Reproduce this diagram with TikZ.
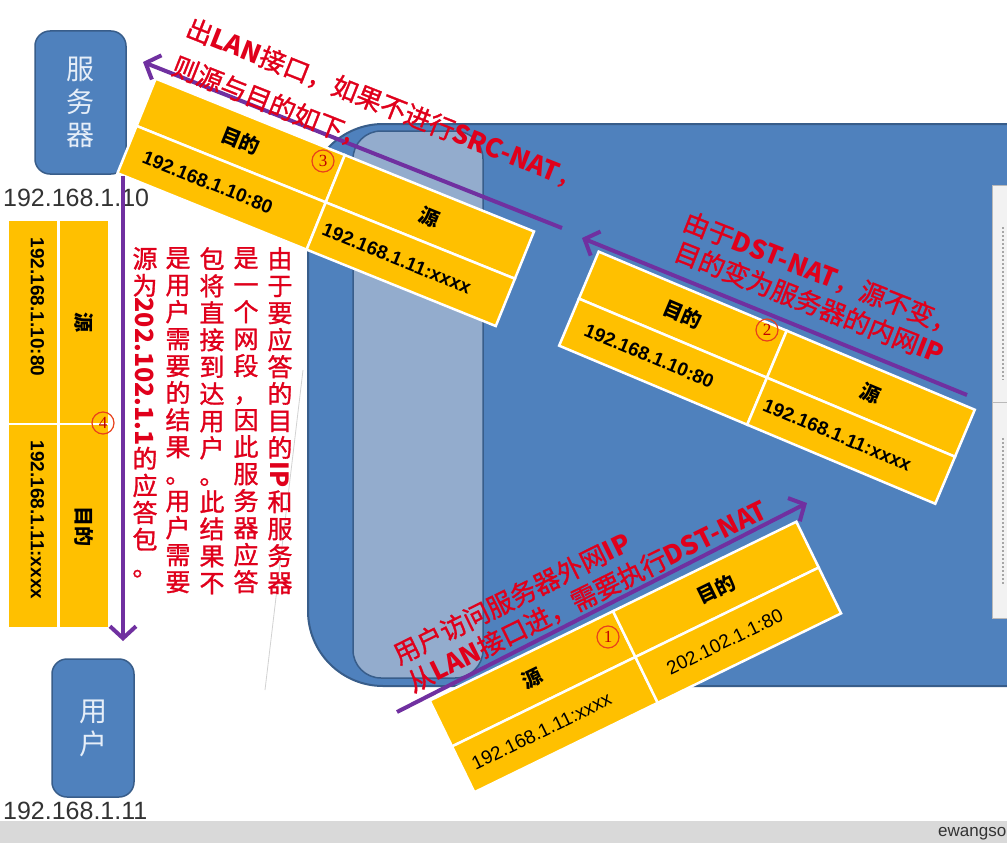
\documentclass[tikz,border=0pt]{standalone}
\usepackage{fontspec}
\setmainfont{Liberation Sans}
\newfontfamily\cjk{Noto Sans CJK SC}
\newfontfamily\cjkm[FakeBold=1.2]{Noto Sans CJK SC}
\newfontfamily\arialf{Liberation Sans}
\newfontfamily\seriff{Liberation Serif}
\usetikzlibrary{arrows.meta}
\newcommand\setfs[2]{\fontsize{#1}{#2}\selectfont}
\newcommand\lat[1]{{\cjk\bfseries #1}}
\definecolor{bigblue}{HTML}{4F81BD}
\definecolor{bordblue}{HTML}{385D8A}
\definecolor{lanblue}{HTML}{93ACCD}
\definecolor{ylw}{HTML}{FFC000}
\definecolor{purp}{HTML}{7030A0}
\definecolor{redtxt}{HTML}{E0001B}
\definecolor{circred}{HTML}{E8411C}
\definecolor{digred}{HTML}{C00000}
\definecolor{iptxt}{HTML}{333333}
\definecolor{footer}{HTML}{D9D9D9}
\definecolor{devtxt}{HTML}{E6EEF8}
\definecolor{panel}{HTML}{F2F2F2}
\tikzset{
  cell/.style={draw=white, line width=2.5pt, fill=ylw, inner sep=0pt, anchor=north west,
    minimum width=204pt, minimum height=51pt},
  hdrcell/.style={font=\cjk\bfseries\setfs{20}{20}, text=black},
  valbold/.style={font=\arialf\bfseries\setfs{19}{19}, text=black},
  valreg/.style={font=\arialf\setfs{19}{19}, text=black},
  devbox/.style={fill=bigblue, draw=bordblue, line width=1.5pt, rounded corners=15pt,
    align=center, text=devtxt, font=\cjk\setfs{28}{33}, inner sep=0pt},
  iplabel/.style={font=\arialf\setfs{25}{25}, text=iptxt, inner sep=0pt, anchor=west},
  arr/.style={draw=purp, line width=4pt, -{Straight Barb[length=12pt,width=26pt]}},
  lbl/.style={font=\cjkm\setfs{26}{26}, text=redtxt, inner sep=0pt, anchor=base west},
  vtext/.style={font=\cjkm\setfs{25}{27}, text=redtxt, inner sep=0pt, anchor=north, align=center},
  circnum/.style={circle, draw=circred, line width=1.2pt, inner sep=0pt, minimum size=22pt,
    text=digred, font=\seriff\setfs{17}{17}},
}
\newcommand\nattable[9]{%
\begin{scope}[shift={(#2,#3)}, rotate=#4, transform shape]
  \node[cell, hdrcell] (#1hl) at (0,0) {#5};
  \node[cell, #9] (#1vl) at (0,51) {\hspace*{-30pt}#6};
  \node[cell, hdrcell] (#1hr) at (204,0) {#7};
  \node[cell, #9] (#1vr) at (204,51) {\hspace*{-30pt}#8};
\end{scope}}
\begin{document}
\begin{tikzpicture}[x=1pt, y=-1pt]
\useasboundingbox (0,0) rectangle (1007,843);
\clip (0,0) rectangle (1007,843);
\fill[white] (0,0) rectangle (1007,843);
% big device
\path[fill=bigblue, draw=bordblue, line width=2pt, rounded corners=75pt]
  (1030,124) -- (308,124) -- (308,686) -- (1030,686);
% LAN interface
\draw[fill=lanblue, draw=bordblue, line width=1.5pt, rounded corners=28pt]
  (353,131) rectangle (483,678);
% right panel
\draw[fill=panel, draw=gray!55, line width=1pt] (992,185) rectangle (1015,618);
\draw[gray!55, line width=1pt] (992,402) -- (1015,402);
\draw[gray!70, line width=1.5pt, dash pattern=on 2pt off 2pt] (1003,227) -- (1003,380);
\draw[gray!70, line width=1.5pt, dash pattern=on 2pt off 2pt] (1003,438) -- (1003,585);
% faint line
\draw[gray!35, line width=0.8pt] (303,370) -- (265,690);
% footer
\fill[footer] (0,821) rectangle (1007,843);
\node[font=\arialf\setfs{17}{17}, text=iptxt, anchor=west, inner sep=0pt] (foot) at (938,834) {ewangso};
% devices
\node[devbox, minimum width=91pt, minimum height=143pt] (srv) at (80.5,102.5) {服\\务\\器};
\node[devbox, minimum width=82pt, minimum height=138pt] (usr) at (93,728) {用\\户};
\node[iplabel] (srvip) at (3,198) {192.168.1.10};
\node[iplabel] (usrip) at (3,811) {192.168.1.11};
% tables
\nattable{tc}{155}{77}{-22}{目的}{192.168.1.10:80}{源}{192.168.1.11:xxxx}{valbold}
\nattable{tb}{598}{250}{-22.8}{目的}{192.168.1.10:80}{源}{192.168.1.11:xxxx}{valbold}
\nattable{ta}{428}{700}{26}{源}{192.168.1.11:xxxx}{目的}{202.102.1.1:80}{valreg}
% left table
\node[cell, anchor=center, rotate=-90, valbold] (tda) at (33.5,322) {\hspace*{-30pt}\raisebox{8pt}{192.168.1.10:80}};
\node[cell, anchor=center, rotate=-90, hdrcell] (tdb) at (84,322) {源};
\node[cell, anchor=center, rotate=-90, valbold] (tdc) at (33.5,526) {\hspace*{-12pt}\raisebox{8pt}{192.168.1.11:xxxx}};
\node[cell, anchor=center, rotate=-90, hdrcell] (tdd) at (84,526) {目的};
% circled numbers
\node[circnum] (n1) at (608,637) {1};
\node[circnum] (n2) at (767,330) {2};
\node[circnum] (n3) at (323,161) {3};
\node[circnum] (n4) at (103,423) {4};
% arrows
\coordinate (a1s) at (397,712); \coordinate (a1e) at (807,503);
\coordinate (a2s) at (967,395); \coordinate (a2e) at (582,238);
\coordinate (a3s) at (562,228); \coordinate (a3e) at (143,62);
\coordinate (a4s) at (123,176); \coordinate (a4e) at (123,641);
\draw[arr] (a1s) -- (a1e);
\draw[arr] (a2s) -- (a2e);
\draw[arr] (a3s) -- (a3e);
\draw[arr] (a4s) -- (a4e);
% labels
\node[lbl, rotate=26.3] (l1a) at (399,665) {用户访问服务器外网\lat{IP}};
\node[lbl, rotate=26.3] (l1b) at (413,693) {从\lat{LAN}接口进，需要执行\lat{DST-NAT}};
\node[lbl, rotate=-21.5] (l2a) at (681,229) {由于\lat{DST-NAT}，源不变，};
\node[lbl, rotate=-21.5] (l2b) at (672,259) {目的变为服务器的内网\lat{IP}};
\node[lbl, rotate=-21.6] (l3a) at (184,35.5) {出\lat{LAN}接口，如果不进行\lat{SRC-NAT}，};
\node[lbl, rotate=-21.6] (l3b) at (170,73.5) {则源与目的如下，};
% vertical explanation
\node[vtext] (v1) at (280,247) {由\\于\\要\\应\\答\\的\\目\\的\\\rotatebox[origin=c]{-90}{\lat{IP}}\\和\\服\\务\\器};
\node[vtext] (v2) at (246,247) {是\\一\\个\\网\\段\\，\\因\\此\\服\\务\\器\\应\\答};
\node[vtext] (v3) at (212,247) {包\\将\\直\\接\\到\\达\\用\\户\\。\\此\\结\\果\\不};
\node[vtext] (v4) at (178,247) {是\\用\\户\\需\\要\\的\\结\\果\\。\\用\\户\\需\\要};
\node[vtext] (v5) at (145,247) {源\\为\\\rotatebox[origin=c]{-90}{\lat{202.102.1.1}}\\的\\应\\答\\包\\。};
\end{tikzpicture}
\end{document}
